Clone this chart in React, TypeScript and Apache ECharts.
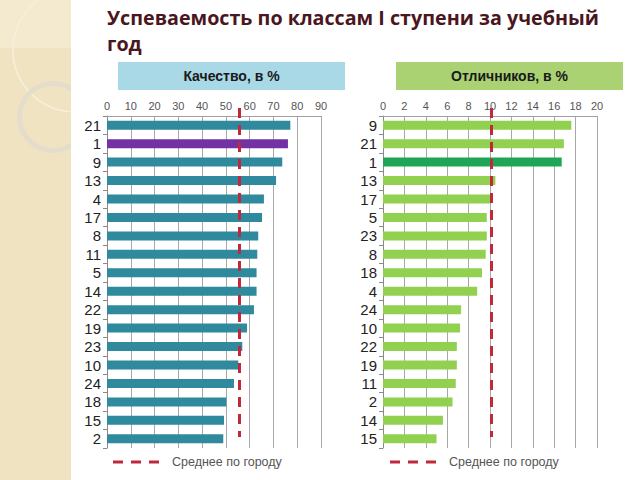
import React, { useEffect, useRef } from "react";
import * as echarts from "echarts";

const qualityClasses = ["21", "1", "9", "13", "4", "17", "8", "11", "5", "14", "22", "19", "23", "10", "24", "18", "15", "2"];
const qualityValues = [77.1, 76.1, 73.7, 71.1, 66.0, 65.2, 63.6, 63.2, 62.9, 62.9, 61.8, 58.9, 56.9, 55.2, 53.4, 50.2, 49.2, 48.9];
const qualityCityAvg = 55.8;

const excellentClasses = ["9", "21", "1", "13", "17", "5", "23", "8", "18", "4", "24", "10", "22", "19", "11", "2", "14", "15"];
const excellentValues = [17.6, 16.9, 16.7, 10.5, 10.0, 9.7, 9.7, 9.6, 9.25, 8.8, 7.3, 7.2, 6.9, 6.9, 6.8, 6.5, 5.6, 5.0];
const excellentCityAvg = 10.1;

const highlightClass = "1";
const titleText = "Успеваемость по классам I ступени за учебный\nгод";
const leftHeader = "Качество, в %";
const rightHeader = "Отличников, в %";
const legendText = "Среднее по городу";

const FONT = "'Liberation Sans', Arial, sans-serif";
const RED = "#c0283c";

export default function App() {
  const ref = useRef<HTMLDivElement>(null);
  useEffect(() => {
    if (!ref.current) return;
    const chart = echarts.init(ref.current, undefined, { renderer: "svg" });

    const gridTop = 116;
    const gridH = 332;

    const yAxisCommon = (data: string[], gridIndex: number) => ({
      type: "category",
      gridIndex,
      data,
      inverse: true,
      axisLine: { show: true, lineStyle: { color: "#8a8a8a", width: 1 } },
      axisTick: { show: true, interval: 0, length: 4, lineStyle: { color: "#8a8a8a" } },
      axisLabel: { interval: 0, fontSize: 15, color: "#222", fontFamily: FONT, margin: 6 },
    });
    const xAxisCommon = (max: number, interval: number, gridIndex: number) => ({
      type: "value",
      gridIndex,
      position: "top",
      min: 0,
      max,
      interval,
      axisLine: { show: true, lineStyle: { color: "#a0a0a0" } },
      axisTick: { show: false },
      axisLabel: { fontSize: 11, color: "#555", fontFamily: FONT, margin: 5 },
      splitLine: { show: true, lineStyle: { color: "#a8a8a8", width: 1 } },
    });

    const avgLine = (avg: number) => ({
      silent: true,
      symbol: ["none", "none"],
      label: { show: false },
      lineStyle: { color: RED, width: 3, type: [10, 7] },
      data: [[{ coord: [avg, 0], y: 108 }, { coord: [avg, 0], y: 437 }]],
    });

    chart.setOption({
      animation: false,
      backgroundColor: "#ffffff",
      grid: [
        { left: 107, top: gridTop, width: 214, height: gridH },
        { left: 383, top: gridTop, width: 214, height: gridH },
      ],
      xAxis: [xAxisCommon(90, 10, 0), xAxisCommon(20, 2, 1)],
      yAxis: [yAxisCommon(qualityClasses, 0), yAxisCommon(excellentClasses, 1)],
      series: [
        {
          type: "bar",
          xAxisIndex: 0,
          yAxisIndex: 0,
          barWidth: 9,
          data: qualityValues.map((v, i) => ({
            value: v,
            itemStyle: { color: qualityClasses[i] === highlightClass ? "#7232a4" : "#2f8a9e" },
          })),
          markLine: avgLine(qualityCityAvg),
        },
        {
          type: "bar",
          xAxisIndex: 1,
          yAxisIndex: 1,
          barWidth: 9,
          data: excellentValues.map((v, i) => ({
            value: v,
            itemStyle: { color: excellentClasses[i] === highlightClass ? "#1ea555" : "#92d050" },
          })),
          markLine: avgLine(excellentCityAvg),
        },
      ],
      graphic: [
        { type: "rect", z: -10, shape: { x: 0, y: 0, width: 71, height: 480 }, style: { fill: "#efe3c1" } },
        { type: "rect", z: -9, shape: { x: 0, y: 0, width: 71, height: 48 }, style: { fill: "#f3ead0" } },
        { type: "ellipse", z: -8, shape: { cx: 75, cy: 50, rx: 62, ry: 62 }, style: { fill: "none", stroke: "#f7f0dc", lineWidth: 1.5 } },
        { type: "ring", z: -8, shape: { cx: 53, cy: 117, r: 36, r0: 31 }, style: { fill: "#e4ddcc" } },
        { type: "rect", z: -7, shape: { x: 71, y: 0, width: 569, height: 480 }, style: { fill: "#ffffff" } },
        {
          type: "text",
          left: 107,
          top: 4,
          style: {
            text: titleText,
            fontSize: 19.7,
            fontWeight: "bold",
            fontFamily: "'Open Sans', sans-serif",
            fill: "#4a1620",
            lineHeight: 26,
          },
        },
        { type: "rect", shape: { x: 118, y: 62, width: 227, height: 28 }, style: { fill: "#a9d8e6" } },
        {
          type: "text",
          x: 231.5,
          y: 76,
          style: { text: leftHeader, fontSize: 14, fontWeight: "bold", fontFamily: "'Liberation Sans Narrow', 'Liberation Sans', sans-serif", fill: "#1a1a1a", align: "center", verticalAlign: "middle" },
        },
        { type: "rect", shape: { x: 396, y: 62, width: 227, height: 28 }, style: { fill: "#aad273" } },
        {
          type: "text",
          x: 509.5,
          y: 76,
          style: { text: rightHeader, fontSize: 14, fontWeight: "bold", fontFamily: "'Liberation Sans Narrow', 'Liberation Sans', sans-serif", fill: "#1a1a1a", align: "center", verticalAlign: "middle" },
        },
        { type: "line", shape: { x1: 113, y1: 462, x2: 163, y2: 462 }, style: { stroke: RED, lineWidth: 3, lineDash: [10, 8] } },
        { type: "text", x: 172, y: 462, style: { text: legendText, fontSize: 12.5, fontFamily: FONT, fill: "#555", verticalAlign: "middle" } },
        { type: "line", shape: { x1: 390, y1: 462, x2: 440, y2: 462 }, style: { stroke: RED, lineWidth: 3, lineDash: [10, 8] } },
        { type: "text", x: 449, y: 462, style: { text: legendText, fontSize: 12.5, fontFamily: FONT, fill: "#555", verticalAlign: "middle" } },
      ],
    });
    return () => chart.dispose();
  }, []);
  return <div ref={ref} style={{ position: "absolute", left: 0, top: 0, width: 640, height: 480 }} />;
}
